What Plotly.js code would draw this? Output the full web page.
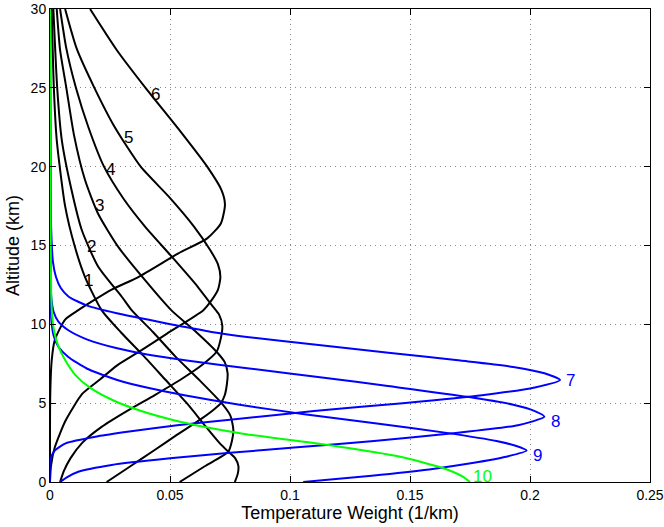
<!DOCTYPE html>
<html>
<head>
<meta charset="utf-8">
<script src="https://cdn.plot.ly/plotly-3.0.1.min.js"></script>
<style>html,body{margin:0;padding:0;background:#fff;}#chart{width:664px;height:527px;}</style>
</head>
<body>
<div id="chart"></div>
<script>
// ---- Data (weight in 1/km, altitude in km) ----
const alt1 = [0, 0.5, 1.0, 1.5, 1.92, 2.5, 3.5, 5.0, 6.5, 8.0, 9.5, 10.9, 13.0, 14.9, 17.5, 21.7, 25, 30];
const w1   = [0.077, 0.0782, 0.0785, 0.0772, 0.0743, 0.0705, 0.065, 0.057, 0.048, 0.039, 0.0295, 0.0215, 0.0146, 0.0104, 0.0063, 0.0028, 0.0016, 0.0007];

const alt2 = [0, 1.0, 1.92, 2.6, 3.3, 4.2, 5.0, 6.5, 8.0, 9.5, 10.9, 11.75, 13.65, 16.0, 18.5, 21.7, 25, 30];
const w2   = [0.054, 0.0645, 0.0743, 0.0758, 0.0764, 0.0752, 0.0715, 0.062, 0.052, 0.043, 0.034, 0.0299, 0.0201, 0.0132, 0.009, 0.0049, 0.003, 0.0014];

const alt3 = [0, 1, 2, 3, 4, 4.6, 5.0, 5.5, 6.2, 6.9, 7.6, 8.26, 9.5, 10.9, 12.8, 14.9, 17.0, 19.15, 22, 25, 27.4, 30];
const w3   = [0.0236, 0.0335, 0.0433, 0.053, 0.063, 0.0683, 0.0712, 0.0728, 0.0737, 0.074, 0.0728, 0.0694, 0.061, 0.0505, 0.0396, 0.0285, 0.0201, 0.0146, 0.0100, 0.0068, 0.0042, 0.0028];

const alt4 = [0, 0.7, 1.5, 2.5, 3.5, 4.5, 5.5, 6.5, 7.5, 8.26, 9.0, 9.9, 10.6, 11.2, 12.6, 14.3, 16.2, 18, 20, 22.5, 25, 27.5, 30];
const w4   = [0.0042, 0.0058, 0.0085, 0.0135, 0.0215, 0.032, 0.0435, 0.0545, 0.064, 0.0694, 0.071, 0.0718, 0.0705, 0.0675, 0.0604, 0.0507, 0.0396, 0.0305, 0.0225, 0.016, 0.0108, 0.0068, 0.0042];

const alt5 = [0, 1.0, 2.2, 3.9, 5.6, 6.5, 7.4, 8.3, 9.4, 10.9, 11.5, 12.2, 13.0, 13.8, 14.7, 16.2, 18.1, 20, 22.5, 25, 27.5, 30];
const w5   = [0, 0.0004, 0.002, 0.0065, 0.0135, 0.0208, 0.028, 0.0375, 0.0486, 0.0639, 0.0672, 0.070, 0.071, 0.070, 0.0668, 0.060, 0.0495, 0.0378, 0.027, 0.0185, 0.0111, 0.0063];

const alt6 = [0, 5.5, 7.7, 9.0, 10.3, 10.9, 11.5, 12.2, 13.0, 14.5, 15.45, 16.4, 17.6, 18.5, 20.0, 22.3, 24.9, 27.4, 30];
const w6   = [0, 0.0001, 0.0007, 0.002, 0.0063, 0.0118, 0.018, 0.0257, 0.0368, 0.0535, 0.0655, 0.0712, 0.0729, 0.0715, 0.0655, 0.054, 0.0403, 0.0278, 0.0167];

const alt7 = [0, 1.3, 1.7, 2.0, 2.45, 2.9, 3.2, 3.6, 4.0, 4.5, 5.0, 5.5, 6.0, 6.47, 6.9, 7.3, 7.7, 8.2, 8.7, 9.2, 9.5, 9.85, 10.27, 10.7, 11.2, 11.75, 12.3, 13.0, 14.0, 16, 19, 30];
const w7   = [0, 0, 0.0008, 0.002, 0.0065, 0.020, 0.033, 0.053, 0.078, 0.11, 0.147, 0.18, 0.202, 0.2125, 0.206, 0.193, 0.171, 0.141, 0.111, 0.082, 0.068, 0.0556, 0.0417, 0.0278, 0.0153, 0.0078, 0.0045, 0.0025, 0.0012, 0.0005, 0.0002, 0];

const alt8 = [0, 0.3, 0.65, 1.08, 1.5, 1.85, 2.2, 2.6, 3.09, 3.6, 4.14, 4.5, 4.9, 5.4, 6.1, 6.6, 7.2, 7.7, 8.05, 8.48, 9.05, 9.64, 10.17, 10.8, 11.6, 13, 30];
const w8   = [0.0042, 0.007, 0.0118, 0.0257, 0.050, 0.075, 0.103, 0.135, 0.168, 0.195, 0.206, 0.202, 0.193, 0.174, 0.14, 0.115, 0.083, 0.057, 0.0417, 0.028, 0.0153, 0.0075, 0.0035, 0.0015, 0.0006, 0.0002, 0];

const alt9 = [0, 0.4, 0.8, 1.2, 1.6, 2.0, 2.3, 2.6, 3.1, 3.7, 4.3, 4.9, 5.5, 5.94, 6.47, 7.2, 7.95, 8.58, 9.3, 10.2, 12, 30];
const w9   = [0.1055, 0.134, 0.158, 0.176, 0.19, 0.1986, 0.194, 0.186, 0.166, 0.137, 0.106, 0.079, 0.056, 0.0417, 0.028, 0.0153, 0.0075, 0.0035, 0.0015, 0.0006, 0.0002, 0];

const alt10 = [0, 0.34, 0.87, 1.6, 2.35, 3.05, 3.5, 3.9, 4.5, 5.2, 6.0, 6.8, 7.74, 8.6, 9.5, 10.5, 12, 15, 20, 30];
const w10   = [0.175, 0.172, 0.164, 0.146, 0.116, 0.081, 0.064, 0.052, 0.038, 0.026, 0.0165, 0.0105, 0.0063, 0.0035, 0.0018, 0.0009, 0.0005, 0.0003, 0.0002, 0.0001];

// Curve labels
const labelText = ["1", "2", "3", "4", "5", "6", "7", "8", "9", "10"];
const labelW    = [0.016, 0.0174, 0.0208, 0.025, 0.0326, 0.0438, 0.2167, 0.2108, 0.203, 0.180];
const labelAlt  = [12.8, 14.95, 17.55, 19.8, 21.85, 24.55, 6.42, 3.82, 1.65, 0.34];

const xTicks = [0, 0.05, 0.1, 0.15, 0.2, 0.25];
const yTicks = [0, 5, 10, 15, 20, 25, 30];

// ---- Styling ----
const BLACK = "#000000", BLUE = "#0000ff", GREEN = "#00ff00";
const series = [
  [w1, alt1, BLACK], [w2, alt2, BLACK], [w3, alt3, BLACK], [w4, alt4, BLACK],
  [w5, alt5, BLACK], [w6, alt6, BLACK], [w7, alt7, BLUE], [w8, alt8, BLUE],
  [w9, alt9, BLUE], [w10, alt10, GREEN]
];
const labelColor = [BLACK, BLACK, BLACK, BLACK, BLACK, BLACK, BLUE, BLUE, BLUE, GREEN];

const traces = series.map(s => ({
  type: "scatter", mode: "lines", x: s[0], y: s[1],
  line: {color: s[2], width: 2, shape: "spline", smoothing: 0.6},
  hoverinfo: "skip"
}));

const FONT = "Liberation Sans, Arial, Helvetica, sans-serif";
const annotations = labelText.map((t, i) => ({
  x: labelW[i], y: labelAlt[i], xref: "x", yref: "y", text: t, showarrow: false,
  xanchor: "center", yanchor: "middle",
  font: {family: FONT, size: 17, color: labelColor[i]}
}));

const axisCommon = {
  showline: true, linecolor: "#000", linewidth: 1, mirror: "ticks",
  ticks: "inside", ticklen: 6, tickcolor: "#000", tickwidth: 1,
  showgrid: true, gridcolor: "#8c8c8c", gridwidth: 1, griddash: "1px,4px",
  zeroline: false, tickfont: {family: FONT, size: 14, color: "#000"}
};

const layout = {
  width: 664, height: 527,
  margin: {l: 50, r: 14, t: 9, b: 45},
  paper_bgcolor: "#fff", plot_bgcolor: "#fff",
  showlegend: false,
  xaxis: Object.assign({}, axisCommon, {
    range: [0, 0.25], tickvals: xTicks, ticktext: xTicks.map(String),
    title: {text: "Temperature Weight (1/km)", font: {family: FONT, size: 18, color: "#000"}, standoff: 4}
  }),
  yaxis: Object.assign({}, axisCommon, {
    range: [0, 30], tickvals: yTicks, ticktext: yTicks.map(String),
    title: {text: "Altitude (km)", font: {family: FONT, size: 18, color: "#000"}, standoff: 6}
  }),
  annotations: annotations
};

Plotly.newPlot("chart", traces, layout, {displayModeBar: false, staticPlot: true});
</script>
</body>
</html>
